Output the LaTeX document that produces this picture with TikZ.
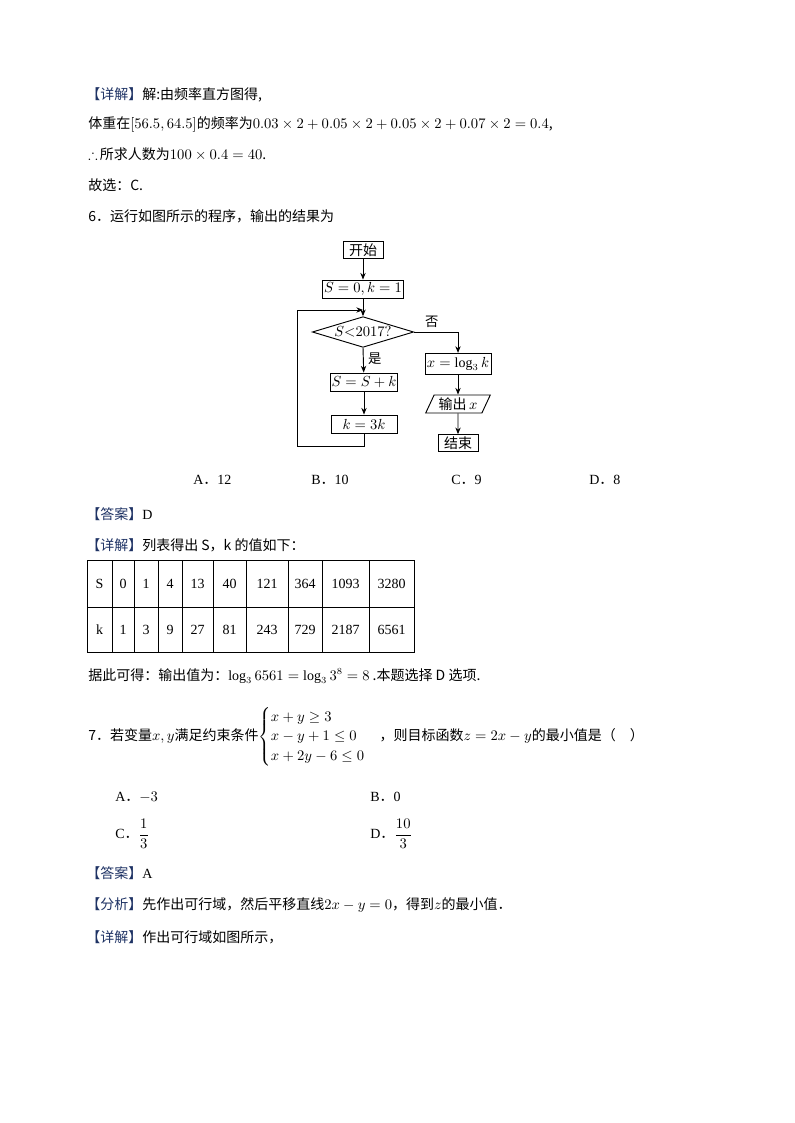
\documentclass[tikz,border=0pt]{standalone}
\usepackage{amsmath,amssymb}
\usepackage{fontspec}
\setmainfont{Liberation Serif}
\newfontfamily\zh{Noto Sans CJK SC}
\usetikzlibrary{shapes.geometric,arrows.meta}
\definecolor{lab}{RGB}{30,50,100}
\tikzset{
  txt/.style={anchor=west,inner sep=0pt,font=\fontsize{10.5}{12}\selectfont},
  box/.style={draw,line width=0.7pt,minimum width=#1*0.75pt,minimum height=13.5pt,inner sep=1pt,font=\fontsize{10.5}{12}\selectfont},
  dia/.style={draw,line width=0.7pt,diamond,aspect=3.4,minimum width=76pt,minimum height=23pt,inner sep=0pt,font=\fontsize{10.5}{12}\selectfont},
  io/.style={draw,line width=0.7pt,trapezium,trapezium left angle=65,trapezium right angle=115,minimum width=44pt,minimum height=13.5pt,inner sep=1pt,font=\fontsize{10.5}{12}\selectfont},
  arr/.style={-{Stealth[length=5pt,width=4pt]},line width=0.7pt},
  ln/.style={line width=0.7pt},
  cell/.style={inner sep=0pt,font=\fontsize{10.5}{12}\selectfont}
}
\newcommand{\lb}[1]{{\color{lab}\zh 【#1】}}
\newcommand{\zd}{{\zh ．}}
\begin{document}
\begin{tikzpicture}[x=0.75pt,y=-0.75pt]
\useasboundingbox (0,0) rectangle (794,1123);
\fill[white] (0,0) rectangle (794,1123);
\node[txt] (t1) at (86,95) {\lb{详解}\zh 解:由频率直方图得,};
\node[txt] (t2) at (88,124) {\zh 体重在$[56.5,64.5]$的频率为$0.03\times2+0.05\times2+0.05\times2+0.07\times2=0.4$,};
\node[txt] (t3) at (88,154) {$\therefore$\,\zh 所求人数为$100\times0.4=40$.};
\node[txt] (t4) at (88,185) {\zh 故选：C.};
\node[txt] (t5) at (88,216) {\zh 6．运行如图所示的程序，输出的结果为};
% flowchart
\node[box=40,minimum height=12.5pt] (start) at (363,250) {\zh 开始};
\node[box=75] (init) at (363,289) {$S=0,k=1$};
\node[dia] (cond) at (363,332) {$S{<}2017?$};
\node[box=66] (add) at (364,382) {$S=S+k$};
\node[box=66] (mul) at (364,424) {$k=3k$};
\node[box=66,minimum height=16pt] (lg) at (458,364) {$x=\log_3 k$};
\node[io] (out) at (458,404) {\zh 输出\,$x$};
\node[box=40,minimum height=12.5pt] (end) at (458,443) {\zh 结束};
\coordinate (lp) at (363,310);
\draw[arr] (start) -- (init);
\draw[ln] (init) -- (lp);
\draw[arr] (lp) -- (cond.north);
\draw[arr] (cond.south) -- node[pos=0.45,right,font=\zh\fontsize{10}{12}\selectfont]{是} (add);
\draw[arr] (add) -- (mul);
\draw[arr] (mul.south) -- ++(0,13) -| (297,310) -- (lp);
\draw[arr] (cond.east) -| node[pos=0.2,above,font=\zh\fontsize{10}{12}\selectfont]{否} (lg.north);
\draw[arr] (lg) -- (out);
\draw[arr] (out) -- (end);
% options
\node[txt] (oa) at (193,480) {A\zd 12};
\node[txt] (ob) at (311,480) {B\zd 10};
\node[txt] (oc) at (451,480) {C\zd 9};
\node[txt] (od) at (589,480) {D\zd 8};
\node[txt] (ans) at (86,514) {\lb{答案}D};
\node[txt] (xj) at (86,545) {\lb{详解}\zh 列表得出 S，k 的值如下：};
% table
\draw[line width=0.6pt] (87,560) rectangle (414,652);
\draw[line width=0.6pt] (87,607) -- (414,607);
\foreach \x in {112,134,158,182,213,246,288,322,369} \draw[line width=0.6pt] (\x,560) -- (\x,652);
\foreach \a/\b/\s/\k [count=\i] in {87/112/S/k,112/134/0/1,134/158/1/3,158/182/4/9,182/213/13/27,213/246/40/81,246/288/121/243,288/322/364/729,322/369/1093/2187,369/414/3280/6561}{
  \node[cell] (s\i) at ({(\a+\b)/2},584) {\s};
  \node[cell] (k\i) at ({(\a+\b)/2},630) {\k};
}
\node[txt] (t6) at (88,676) {\zh 据此可得：输出值为：$\log_3 6561=\log_3 3^8=8$ .本题选择 D 选项.};
\node[txt] (q7) at (88,737) {\zh 7．若变量$x,y$满足约束条件$\renewcommand{\arraystretch}{1.35}\begin{cases}x+y\ge 3\\ x-y+1\le 0\\ x+2y-6\le 0\end{cases}$，则目标函数$z=2x-y$的最小值是（\quad）};
\node[txt] (a7) at (115,797) {A\zd $-3$};
\node[txt] (b7) at (370,797) {B\zd 0};
\node[txt] (c7) at (115,834) {C\zd $\dfrac{1}{3}$};
\node[txt] (d7) at (370,834) {D\zd $\dfrac{10}{3}$};
\node[txt] (an7) at (86,873) {\lb{答案}A};
\node[txt] (fx) at (86,905) {\lb{分析}\zh 先作出可行域，然后平移直线$2x-y=0$，得到$z$的最小值．};
\node[txt] (xj7) at (86,937) {\lb{详解}\zh 作出可行域如图所示，};
\end{tikzpicture}
\end{document}
